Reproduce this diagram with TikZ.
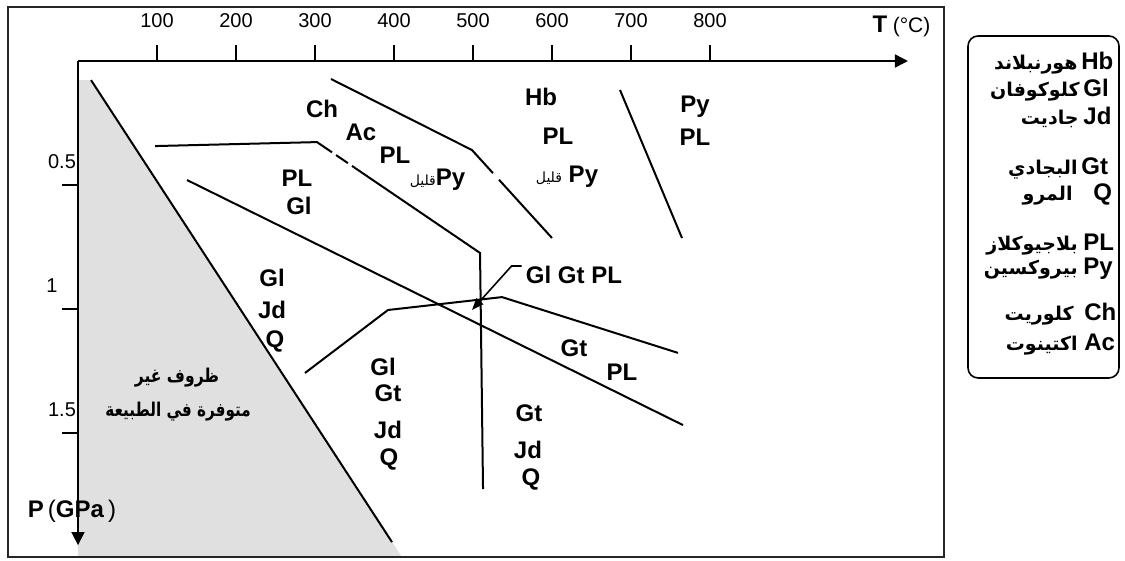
\documentclass[tikz,border=0pt]{standalone}
\usepackage{fontspec}
\setmainfont{Liberation Sans}
\newfontfamily\arabicfont[Script=Arabic]{DejaVu Sans}
\TeXXeTstate=1
\usetikzlibrary{positioning,calc,arrows.meta}
\newcommand{\artxt}[1]{{\arabicfont\beginR #1\endR}}

\tikzset{
	phase/.style={font=\bfseries\fontsize{12}{13}\selectfont, inner sep=0pt,
		text height=8.6pt, text depth=0pt},
	keylbl/.style={phase, anchor=west},
	keyar/.style={font=\bfseries\fontsize{9.5}{10}\selectfont, inner sep=0pt},
	greyar/.style={font=\bfseries\fontsize{9.5}{11}\selectfont, inner sep=0pt},
	ticklbl/.style={font=\fontsize{10}{11}\selectfont, inner sep=0pt},
	bound/.style={line width=1pt},
	axis/.style={line width=0.8pt},
}

\begin{document}
\begin{tikzpicture}[x=39.5pt, y=-124pt]
\useasboundingbox (-0.9873,-0.2460) rectangle (13.2532,2.0161);

% region that does not occur in nature
\fill[black!12] (0,0.077) -- (0.165,0.077) -- (4.101,2.0) -- (0,2.0) -- cycle;
\draw[line width=0.8pt, black!85] (-0.886,-0.218) rectangle (10.962,2.0);

% axes
\coordinate (O) at (0,0);
\coordinate (Tend) at (10.506,0);
\coordinate (Pend) at (0,1.952);
\draw[axis, -{Triangle[length=6.5pt,width=6.5pt]}] (O) -- (Tend);
\draw[axis, -{Triangle[length=6.5pt,width=6.5pt]}] (O) -- (Pend);

\draw[axis] (1,0) -- (1,-0.065) node[ticklbl, above=8pt] (t1) {100};
\draw[axis] (2,0) -- (2,-0.065) node[ticklbl, above=8pt] (t2) {200};
\draw[axis] (3,0) -- (3,-0.065) node[ticklbl, above=8pt] (t3) {300};
\draw[axis] (4,0) -- (4,-0.065) node[ticklbl, above=8pt] (t4) {400};
\draw[axis] (5,0) -- (5,-0.065) node[ticklbl, above=8pt] (t5) {500};
\draw[axis] (6,0) -- (6,-0.065) node[ticklbl, above=8pt] (t6) {600};
\draw[axis] (7,0) -- (7,-0.065) node[ticklbl, above=8pt] (t7) {700};
\draw[axis] (8,0) -- (8,-0.065) node[ticklbl, above=8pt] (t8) {800};

\draw[axis] (0,0.5) -- (-0.2025,0.5) node[ticklbl, above=8pt] (p1) {0.5};
\draw[axis] (0,1) -- (-0.2025,1) node[ticklbl, above=8pt, xshift=-5pt] (p2) {1};
\draw[axis] (0,1.5) -- (-0.2025,1.5) node[ticklbl, above=8pt] (p3) {1.5};

\node[inner sep=0pt] (Tlbl) at (10.424,-0.141)
	{\textbf{\fontsize{12}{13}\selectfont T} \fontsize{10.5}{12}\selectfont(°C)};
\node[inner sep=0pt] (Plbl) at (-0.075,1.8145)
	{\fontsize{12}{13}\selectfont\textbf{P}\,(\textbf{GPa}\,)};

% reaction boundaries
\coordinate (a1) at (0.975,0.343);
\coordinate (a2) at (3.025,0.327);
\coordinate (a3) at (5.089,0.774);
\coordinate (a4) at (5.127,1.726);
\draw[bound] (a1) -- (a2) -- ($(a2)!0.092!(a3)$);
\draw[bound] ($(a2)!0.117!(a3)$) -- ($(a2)!0.19!(a3)$);
\draw[bound] ($(a2)!0.215!(a3)$) -- (a3) -- (a4);

\coordinate (b1) at (3.203,0.0726);
\coordinate (b2) at (4.987,0.359);
\coordinate (b3) at (6.0,0.7137);
\draw[bound] (b1) -- (b2) -- ($(b2)!0.2625!(b3)$);
\draw[bound] ($(b2)!0.3375!(b3)$) -- (b3);

\coordinate (c1) at (6.861,0.117);
\coordinate (c2) at (7.646,0.714);
\draw[bound] (c1) -- (c2);

\coordinate (d1) at (1.380,0.480);
\coordinate (d2) at (7.658,1.468);
\draw[bound] (d1) -- (d2);

\coordinate (e1) at (2.873,1.258);
\coordinate (e2) at (3.924,1.004);
\coordinate (e3) at (5.367,0.952);
\coordinate (e4) at (7.595,1.177);
\draw[bound] (e1) -- (e2) -- (e3) -- (e4);

\coordinate (g1) at (0.165,0.077);
\coordinate (g2) at (3.975,1.940);
\draw[bound] (g1) -- (g2);

% mineral assemblages
\node[phase] (ch) at (3.089,0.1935) {Ch};
\node[phase] (ac) at (3.582,0.2863) {Ac};
\node[phase] (pla) at (4.013,0.379) {PL};
\node[phase] (pya) at (4.551,0.4677) {\artxt{\mdseries\fontsize{7}{7}\selectfont قليل}Py};
\node[phase] (plb) at (2.772,0.4718) {PL};
\node[phase] (gla) at (2.797,0.5847) {Gl};
\node[phase] (hb) at (5.861,0.1452) {Hb};
\node[phase] (plc) at (6.076,0.3024) {PL};
\node[phase] (pyb) at (6.190,0.4556) {\artxt{\mdseries\fontsize{7}{7}\selectfont قليل} Py};
\node[phase] (pyc) at (7.810,0.1734) {Py};
\node[phase] (pld) at (7.810,0.3065) {PL};
\node[phase] (glb) at (2.456,0.875) {Gl};
\node[phase] (jda) at (2.456,1.004) {Jd};
\node[phase] (qa) at (2.494,1.121) {Q};
\node[phase] (glc) at (3.861,1.234) {Gl};
\node[phase] (gta) at (3.924,1.339) {Gt};
\node[phase] (jdb) at (3.924,1.488) {Jd};
\node[phase] (qb) at (3.937,1.597) {Q};
\node[phase] (gtb) at (6.278,1.157) {Gt};
\node[phase] (ple) at (6.886,1.254) {PL};
\node[phase] (gtc) at (5.709,1.419) {Gt};
\node[phase] (jdc) at (5.696,1.569) {Jd};
\node[phase] (qc) at (5.734,1.677) {Q};
\node[greyar] (nat1) at (1.253,1.278) {\scalebox{0.82}[1]{\artxt{ظروف غير}}};
\node[greyar] (nat2) at (1.266,1.415) {\scalebox{0.8}[1]{\artxt{متوفرة في الطبيعة}}};

\node[phase] (ggp) at (6.278,0.863) {Gl Gt PL};
\coordinate (trip) at (4.987,1.004);
\draw[line width=0.8pt, -{Triangle[length=6pt,width=4.5pt]}]
	([xshift=-2pt]ggp.north west) -- ++(-5pt,0) -- (trip);

% key
\draw[line width=0.8pt, rounded corners=5pt] (11.266,-0.1008) rectangle (13.177,1.278);
\node[keylbl] (kHb) at (12.696,0) {Hb};
\node[keyar, left=1.5pt of kHb.base west, anchor=base east] (aHb) {\artxt{هورنبلاند}};
\node[keylbl] (kGl) at (12.722,0.1089) {Gl};
\node[keyar, left=1.5pt of kGl.base west, anchor=base east] (aGl) {\artxt{كلوكوفان}};
\node[keylbl] (kJd) at (12.722,0.2218) {Jd};
\node[keyar, left=2pt of kJd.base west, anchor=base east] (aJd) {\artxt{جاديت}};
\node[keylbl] (kGt) at (12.696,0.4234) {Gt};
\node[keyar, left=1.5pt of kGt.base west, anchor=base east] (aGt) {\artxt{البجادي}};
\node[keylbl] (kQ) at (12.848,0.5282) {Q};
\node[keyar, left=10pt of kQ.base west, anchor=base east] (aQ) {\artxt{المرو}};
\node[keylbl] (kPL) at (12.722,0.7298) {PL};
\node[keyar, left=2.5pt of kPL.base west, anchor=base east] (aPL) {\artxt{بلاجيوكلاز}};
\node[keylbl] (kPy) at (12.722,0.8266) {Py};
\node[keyar, left=2.5pt of kPy.base west, anchor=base east] (aPy) {\artxt{بيروكسين}};
\node[keylbl] (kCh) at (12.734,1.0121) {Ch};
\node[keyar, left=5pt of kCh.base west, anchor=base east] (aCh) {\artxt{كلوريت}};
\node[keylbl] (kAc) at (12.734,1.1331) {Ac};
\node[keyar, left=3pt of kAc.base west, anchor=base east] (aAc) {\artxt{اكتينوت}};
\end{tikzpicture}
\end{document}
